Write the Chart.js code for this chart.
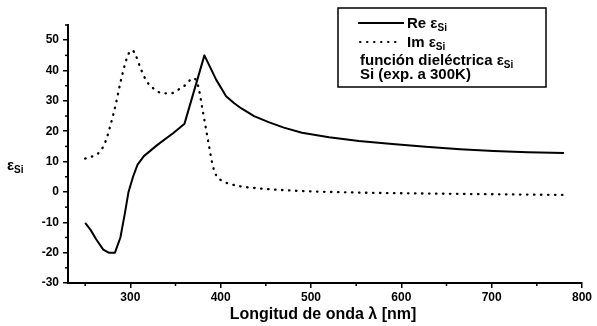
<!DOCTYPE html>
<html>
<head>
<meta charset="utf-8">
<script src="https://cdn.jsdelivr.net/npm/chart.js@4"></script>
<style>
  html, body { margin:0; padding:0; background:#fff; }
  #wrap { width:597px; height:326px; }
</style>
</head>
<body>
<div id="wrap"><canvas id="c" width="597" height="326"></canvas></div>
<script>
// Re eps_Si (solid)
const reWl  = [250, 256, 262, 270, 276, 283, 289, 294, 298, 303, 308, 315, 330, 348, 360, 382, 395, 406, 415, 423, 437, 453, 470, 490, 520, 553, 590, 627, 665, 702, 740, 780];
const reVal = [-10.2, -12.5, -15.5, -19, -20, -20, -15, -7, 0, 5, 9, 11.8, 15.5, 19.5, 22.5, 45, 37, 31.5, 29.2, 27.5, 25, 23, 21.2, 19.5, 18, 16.8, 15.8, 14.9, 14.1, 13.5, 13.1, 12.8];
// Im eps_Si (dotted)
const imWl  = [250, 260, 267, 273, 278, 284, 289, 294, 298, 302, 306, 311, 318, 326, 336, 345, 352, 360, 370, 375, 380, 386, 391, 395, 403, 412, 423, 450, 490, 550, 650, 780];
const imVal = [11, 12, 13.5, 17, 22, 29, 36, 42, 45.5, 46.7, 45, 41, 36.5, 34, 32.5, 32.5, 33.5, 35, 37.5, 35, 27, 17, 9, 5.5, 3.5, 2.5, 1.8, 1, 0.3, -0.2, -0.6, -1];

const xTicks = [300, 400, 500, 600, 700, 800];
const yTicks = [-30, -20, -10, 0, 10, 20, 30, 40, 50];
const legendLines = ["Re ", "Im ", "función dieléctrica ", "Si (exp. a 300K)"];

const FONT = "'Liberation Sans', Arial, sans-serif";

function pts(xs, ys) { return xs.map((x, i) => ({x: x, y: ys[i]})); }

function epsText(ctx, x, y, size)
{
    ctx.font = "bold " + size + "px " + FONT;
    ctx.fillText("\u03b5", x, y);
    let w = ctx.measureText("\u03b5").width;
    ctx.font = "bold " + Math.round(size * 0.65) + "px " + FONT;
    ctx.fillText("Si", x + w, y + 3);
}

const extras = {
    id: 'extras',
    afterDraw(chart)
    {
        const ctx = chart.ctx;
        const xs = chart.scales.x, ys = chart.scales.y;
        ctx.save();
        ctx.strokeStyle = '#000';
        ctx.lineWidth = 1.5;
        // minor ticks
        for (let v = 250; v < 800; v += 100) {
            let p = xs.getPixelForValue(v);
            ctx.beginPath(); ctx.moveTo(p, ys.bottom); ctx.lineTo(p, ys.bottom + 3); ctx.stroke();
        }
        for (let v = -25; v <= 55; v += 10) {
            let p = ys.getPixelForValue(v);
            ctx.beginPath(); ctx.moveTo(xs.left, p); ctx.lineTo(xs.left - 3, p); ctx.stroke();
        }
        ctx.fillStyle = '#000';
        ctx.textBaseline = 'alphabetic';
        // axis titles
        ctx.font = "bold 16px " + FONT;
        ctx.textAlign = 'center';
        ctx.fillText("Longitud de onda \u03bb [nm]", 323, 319);
        ctx.textAlign = 'left';
        epsText(ctx, 7, 170, 15);

        // legend box
        ctx.lineWidth = 1.5;
        ctx.strokeRect(338, 8, 208, 79);
        ctx.lineWidth = 2;
        ctx.beginPath(); ctx.moveTo(358, 23); ctx.lineTo(404, 23); ctx.stroke();
        ctx.lineCap = 'round';
        ctx.lineWidth = 2;
        ctx.setLineDash([0.5, 6.5]);
        ctx.beginPath(); ctx.moveTo(360, 42); ctx.lineTo(402, 42); ctx.stroke();
        ctx.setLineDash([]);
        const fs = 15;
        ctx.font = "bold " + fs + "px " + FONT;
        ctx.fillText(legendLines[0], 407, 28);
        epsText(ctx, 407 + ctx.measureText(legendLines[0]).width, 28, fs);
        ctx.font = "bold " + fs + "px " + FONT;
        ctx.fillText(legendLines[1], 407, 47);
        epsText(ctx, 407 + ctx.measureText(legendLines[1]).width, 47, fs);
        ctx.font = "bold " + fs + "px " + FONT;
        ctx.fillText(legendLines[2], 360, 65);
        epsText(ctx, 360 + ctx.measureText(legendLines[2]).width, 65, fs);
        ctx.font = "bold " + fs + "px " + FONT;
        ctx.fillText(legendLines[3], 360, 79);
        ctx.restore();
    }
};

const filterTicks = (list) => (scale) => { scale.ticks = list.map(v => ({value: v})); };

new Chart(document.getElementById('c'), {
    type: 'scatter',
    data: {
        datasets: [
            {
                label: 'Re',
                data: pts(reWl, reVal),
                showLine: true,
                borderColor: '#000',
                borderWidth: 2,
                pointRadius: 0,
                borderJoinStyle: 'round',
                tension: 0
            },
            {
                label: 'Im',
                data: pts(imWl, imVal),
                showLine: true,
                borderColor: '#000',
                borderWidth: 2.3,
                borderDash: [0.5, 6.5],
                borderCapStyle: 'round',
                pointRadius: 0,
                cubicInterpolationMode: 'monotone'
            }
        ]
    },
    options: {
        responsive: false,
        animation: false,
        layout: { padding: { left: 0, right: 15, top: 25, bottom: 0 } },
        plugins: { legend: { display: false }, tooltip: { enabled: false } },
        scales: {
            x: {
                type: 'linear',
                min: 231, max: 800,
                afterBuildTicks: filterTicks(xTicks),
                afterFit: (s) => { s.height = 43; },
                grid: { drawOnChartArea: false, color: '#000', lineWidth: 1.5, tickLength: 5 },
                border: { color: '#000', width: 2 },
                ticks: { color: '#000', font: { family: FONT, size: 12, weight: 'bold' }, padding: 2 }
            },
            y: {
                min: -30, max: 55,
                afterBuildTicks: filterTicks(yTicks),
                afterFit: (s) => { s.width = 68; },
                grid: { drawOnChartArea: false, color: '#000', lineWidth: 1.5, tickLength: 5 },
                border: { color: '#000', width: 2 },
                ticks: { color: '#000', font: { family: FONT, size: 12, weight: 'bold' }, padding: 4 }
            }
        }
    },
    plugins: [extras]
});
</script>
</body>
</html>
